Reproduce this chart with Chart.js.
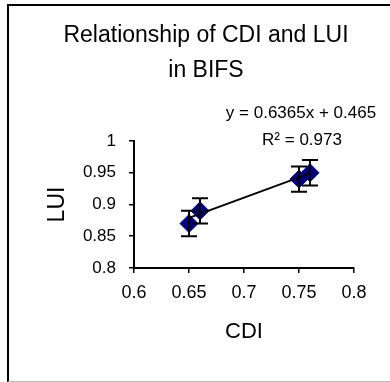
<!DOCTYPE html>
<html>
<head>
<meta charset="utf-8">
<script src="https://cdn.jsdelivr.net/npm/chart.js@4.4.1/dist/chart.umd.min.js"></script>
<style>
    html, body { margin: 0; padding: 0; background: #fff; overflow: hidden; }
    #wrap { position: relative; width: 390px; height: 382px; }
    #frame {
        position: absolute; left: 7px; top: 4px; width: 400px; height: 375px;
        border-top: 2px solid #000; border-left: 2px solid #000; border-bottom: 1px solid #bbb;
    }
    canvas { position: absolute; left: 0; top: 0; }
</style>
</head>
<body>
<div id="wrap">
    <div id="frame"></div>
    <canvas id="grafico" width="390" height="382"></canvas>
</div>
<script>
const cdi = [0.65, 0.66, 0.75, 0.76];
const lui = [0.87, 0.89, 0.94, 0.95];
const luiErro = [0.02, 0.02, 0.02, 0.02];
const trendCdi = [0.65, 0.76];
const trendLui = [0.879, 0.949];
const xTickLabels = ['0.6', '0.65', '0.7', '0.75', '0.8'];
const yTickLabels = ['0.8', '0.85', '0.9', '0.95', '1'];
const equacao = 'y = 0.6365x + 0.465';
const r2Texto = 'R\u00B2 = 0.973';

const fonte = "'Liberation Sans', Arial, sans-serif";

// barras de erro verticais + texto da linha de tendencia
const errorBarsPlugin = {
    id: 'errorBars',
    afterDatasetsDraw(chart) {
        const ctx = chart.ctx;
        const xs = chart.scales.x;
        const ys = chart.scales.y;
        ctx.save();
        ctx.strokeStyle = '#000';
        ctx.lineWidth = 2;
        for (let i = 0; i < cdi.length; i++) {
            const px = xs.getPixelForValue(cdi[i]);
            const top = ys.getPixelForValue(lui[i] + luiErro[i]);
            const bot = ys.getPixelForValue(lui[i] - luiErro[i]);
            ctx.beginPath();
            ctx.moveTo(px, top); ctx.lineTo(px, bot);
            ctx.moveTo(px - 8, top); ctx.lineTo(px + 8, top);
            ctx.moveTo(px - 8, bot); ctx.lineTo(px + 8, bot);
            ctx.stroke();
        }
        ctx.restore();
    },
    afterDraw(chart) {
        const ctx = chart.ctx;
        ctx.save();
        ctx.fillStyle = '#000';
        ctx.font = '17px ' + fonte;
        ctx.textAlign = 'center';
        ctx.textBaseline = 'middle';
        ctx.fillText(equacao, 301, 113);
        ctx.fillText(r2Texto, 302, 140);
        ctx.restore();
    }
};

const ctx = document.getElementById('grafico').getContext('2d');
var chart = new Chart(ctx, {
    type: 'scatter',
    data: {
        datasets: [{
            label: 'Linear',
            data: trendCdi.map((x, i) => ({ x: x, y: trendLui[i] })),
            showLine: true,
            borderColor: '#000',
            borderWidth: 2,
            pointRadius: 0,
            order: 0
        }, {
            label: 'LUI',
            data: cdi.map((x, i) => ({ x: x, y: lui[i] })),
            pointStyle: 'rectRot',
            pointRadius: 9,
            backgroundColor: '#000080',
            borderColor: '#000080',
            borderWidth: 1,
            order: 1
        }]
    },
    options: {
        responsive: false,
        animation: false,
        devicePixelRatio: 1,
        layout: { padding: { left: 58, right: 36, top: 0, bottom: 37 } },
        plugins: {
            legend: { display: false },
            tooltip: { enabled: false },
            title: {
                display: true,
                text: ['Relationship of CDI and LUI', 'in BIFS'],
                color: '#000',
                font: { family: fonte, size: 23, weight: 'normal', lineHeight: 35 / 23 },
                padding: { top: 18, bottom: 53 }
            }
        },
        scales: {
            x: {
                type: 'linear',
                min: 0.6,
                max: 0.8,
                ticks: {
                    stepSize: 0.05,
                    color: '#000',
                    padding: 9,
                    font: { family: fonte, size: 18 },
                    callback: (v, i) => xTickLabels[i]
                },
                grid: { display: true, drawOnChartArea: false, drawTicks: true, tickLength: 5, color: '#000', lineWidth: 1.5 },
                border: { display: true, color: '#000', width: 2 },
                title: {
                    display: true,
                    text: 'CDI',
                    color: '#000',
                    font: { family: fonte, size: 22 },
                    padding: 0
                },
                afterFit(scale) { scale.height = 77; }
            },
            y: {
                type: 'linear',
                min: 0.8,
                max: 1,
                ticks: {
                    stepSize: 0.05,
                    color: '#000',
                    padding: 13,
                    font: { family: fonte, size: 17 },
                    callback: (v, i) => yTickLabels[i]
                },
                grid: { display: true, drawOnChartArea: false, drawTicks: true, tickLength: 5, color: '#000', lineWidth: 1.5 },
                border: { display: true, color: '#000', width: 2 },
                title: {
                    display: true,
                    text: 'LUI',
                    color: '#000',
                    font: { family: fonte, size: 23 },
                    padding: { top: -14, bottom: 0 }
                },
                afterFit(scale) { scale.width = 76; }
            }
        }
    },
    plugins: [errorBarsPlugin]
});
</script>
</body>
</html>
